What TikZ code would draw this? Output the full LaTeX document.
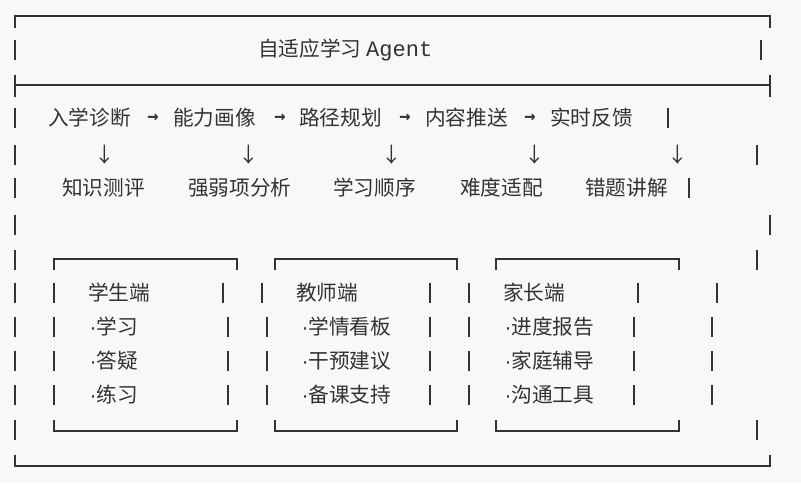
\documentclass[tikz,border=0pt]{standalone}
\usepackage{fontspec}
\setmainfont{Noto Sans CJK SC}
\newfontfamily\monofont{DejaVu Sans Mono}
\newfontfamily\titlemono{Liberation Mono}
\usepackage{xcolor}
\definecolor{ink}{HTML}{333333}
\definecolor{paper}{HTML}{F8F8F8}

\tikzset{
  rule/.style={ink,line width=1.6pt},
  stroke/.style={ink,line width=1.3pt},
  label/.style={text=ink,font=\fontsize{15.5}{18}\selectfont,inner sep=0pt,anchor=west},
  downarrow/.style={text=ink,font=\fontsize{15.5}{18}\selectfont,inner sep=0pt},
  flowarrow/.style={text=ink,font=\monofont\bfseries\fontsize{14}{16}\selectfont,inner sep=0pt}
}
\newcommand{\vstroke}[2]{\draw[stroke] (#1,#2-10) -- (#1,#2+10);}
\newcommand{\dotitem}[1]{{\monofont\fontsize{12}{14}\selectfont ·}\kern-1pt#1}

\begin{document}
\begin{tikzpicture}[x=0.75pt,y=-0.75pt]
\fill[paper] (0,0) rectangle (801,483);
\useasboundingbox (0,0) rectangle (801,483);

% outer frame
\draw[rule] (15,28) -- (15,16) -- (770,16) -- (770,28);
\draw[rule] (15,75) -- (15,97);
\draw[rule] (770,75) -- (770,97);
\draw[rule] (15,85) -- (770,85);
\draw[rule] (15,455) -- (15,466) -- (770,466) -- (770,455);

% bars of the rows
\foreach \y in {50,118,155,188,225,260,293,327,361,395,430} {\vstroke{15}{\y}}
\vstroke{761}{50}
\vstroke{668}{118}
\vstroke{757}{155}
\vstroke{689}{188}
\vstroke{770}{225}
\vstroke{757}{260}
\vstroke{757}{430}
\foreach \x in {54,223,262,430,469,638,717} {\vstroke{\x}{293}}
\foreach \y in {327,361,395}
  \foreach \x in {54,228,267,430,469,634,712} {\vstroke{\x}{\y}}

% client boxes
\foreach \l/\r in {54/237,275/457,496/679} {
  \draw[rule] (\l,270) -- (\l,259) -- (\r,259) -- (\r,270);
  \draw[rule] (\l,420) -- (\l,431) -- (\r,431) -- (\r,420);
}

% title
\node[label] (title) at (258,50) {自适应学习 {\titlemono\fontsize{16.5}{18}\selectfont Agent}};

% pipeline
\node[label] (enter) at (48,118) {入学诊断};
\node[label] (profile) at (173,118) {能力画像};
\node[label] (path) at (299,118) {路径规划};
\node[label] (push) at (425,118) {内容推送};
\node[label] (feedback) at (550,118) {实时反馈};
\foreach \x [count=\i] in {153,280,405,530} {
  \node[flowarrow] (right\i) at (\x,118) {→};
}
\foreach \x [count=\i] in {105,249,392,535,678} {
  \node[downarrow] (down\i) at (\x,155) {↓};
}
\node[label] (test) at (62,188) {知识测评};
\node[label] (weak) at (188,188) {强弱项分析};
\node[label] (order) at (333,188) {学习顺序};
\node[label] (level) at (460,188) {难度适配};
\node[label] (wrong) at (585,188) {错题讲解};

% student
\node[label] (student) at (88,293) {学生端};
\node[label] (s1) at (88,327) {\dotitem{学习}};
\node[label] (s2) at (88,361) {\dotitem{答疑}};
\node[label] (s3) at (88,395) {\dotitem{练习}};

% teacher
\node[label] (teacher) at (296,293) {教师端};
\node[label] (t1) at (300,327) {\dotitem{学情看板}};
\node[label] (t2) at (300,361) {\dotitem{干预建议}};
\node[label] (t3) at (300,395) {\dotitem{备课支持}};

% parent
\node[label] (parent) at (503,293) {家长端};
\node[label] (p1) at (503,327) {\dotitem{进度报告}};
\node[label] (p2) at (503,361) {\dotitem{家庭辅导}};
\node[label] (p3) at (503,395) {\dotitem{沟通工具}};
\end{tikzpicture}
\end{document}
